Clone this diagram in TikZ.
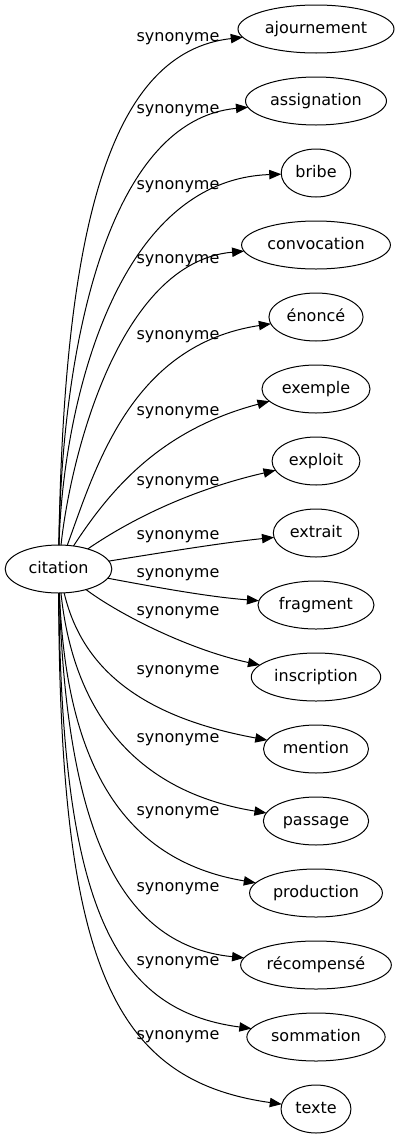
\documentclass[tikz,border=0pt]{standalone}
\usepackage{fontspec}
\setmainfont{DejaVu Sans}
\usetikzlibrary{positioning,shapes,arrows.meta}
\tikzset{
  link/.style={-{Triangle[length=9pt,width=7pt]}, draw, black, line width=0.75pt},
}

\begin{document}
\begin{tikzpicture}[x=0.75pt,y=-0.75pt,
            word/.style={ellipse,draw=black,line width=0.75pt,outer sep=0pt,minimum height=36pt,inner xsep=3pt,font=\fontsize{12}{14}\selectfont,text height=1.6ex,text depth=0.45ex},
            rel/.style={font=\fontsize{12}{14}\selectfont,inner sep=0pt}]
            \useasboundingbox (0,0) rectangle (400,1139);
            \node[word,minimum width=80pt] (citation) at (58.5,569) {citation};

            \node[word] (ajournement) at (316,29) {ajournement};
            \node[word,below=18pt of ajournement] (assignation) {assignation};
            \node[word,below=18pt of assignation] (bribe) {bribe};
            \node[word,below=18pt of bribe] (convocation) {convocation};
            \node[word,below=18pt of convocation] (enonce) {énoncé};
            \node[word,below=18pt of enonce] (exemple) {exemple};
            \node[word,below=18pt of exemple] (exploit) {exploit};
            \node[word,below=18pt of exploit] (extrait) {extrait};
            \node[word,below=18pt of extrait] (fragment) {fragment};
            \node[word,below=18pt of fragment] (inscription) {inscription};
            \node[word,below=18pt of inscription] (mention) {mention};
            \node[word,below=18pt of mention] (passage) {passage};
            \node[word,below=18pt of passage] (production) {production};
            \node[word,below=18pt of production] (recompense) {récompensé};
            \node[word,below=18pt of recompense] (sommation) {sommation};
            \node[word,below=18pt of sommation] (texte) {texte};

            \node[rel] (syn-ajournement) at (178,39) {synonyme};
            \node[rel] (syn-assignation) at (178,111) {synonyme};
            \node[rel] (syn-bribe) at (178,187) {synonyme};
            \node[rel] (syn-convocation) at (178,261) {synonyme};
            \node[rel] (syn-enonce) at (178,337) {synonyme};
            \node[rel] (syn-exemple) at (178,413) {synonyme};
            \node[rel] (syn-exploit) at (178,483) {synonyme};
            \node[rel] (syn-extrait) at (178,537) {synonyme};
            \node[rel] (syn-fragment) at (178,575) {synonyme};
            \node[rel] (syn-inscription) at (178,613) {synonyme};
            \node[rel] (syn-mention) at (178,672) {synonyme};
            \node[rel] (syn-passage) at (178,740) {synonyme};
            \node[rel] (syn-production) at (178,813) {synonyme};
            \node[rel] (syn-recompense) at (178,889) {synonyme};
            \node[rel] (syn-sommation) at (178,963) {synonyme};
            \node[rel] (syn-texte) at (178,1037) {synonyme};

            \draw [link] (citation) .. controls (64,220) and (112,52) .. (ajournement);
            \draw [link] (citation) .. controls (62,340) and (110,120) .. (assignation);
            \draw [link] (citation) .. controls (62,420) and (110,180) .. (bribe);
            \draw [link] (citation) .. controls (70,460) and (118,262) .. (convocation);
            \draw [link] (citation) .. controls (95,470) and (130,345) .. (enonce);
            \draw [link] (citation) .. controls (110,490) and (160,430) .. (exemple);
            \draw [link] (citation) .. controls (130,520) and (190,490) .. (exploit);
            \draw [link] (citation) .. controls (160,553) and (220,543) .. (extrait);
            \draw [link] (citation) .. controls (160,588) and (210,597) .. (fragment);
            \draw [link] (citation) .. controls (120,615) and (190,650) .. (inscription);
            \draw [link] (citation) .. controls (80,660) and (130,715) .. (mention);
            \draw [link] (citation) .. controls (72,700) and (125,790) .. (passage);
            \draw [link] (citation) .. controls (66,760) and (120,860) .. (production);
            \draw [link] (citation) .. controls (66,820) and (115,945) .. (recompense);
            \draw [link] (citation) .. controls (62,900) and (110,1010) .. (sommation);
            \draw [link] (citation) .. controls (60,960) and (110,1080) .. (texte);
\end{tikzpicture}
\end{document}
